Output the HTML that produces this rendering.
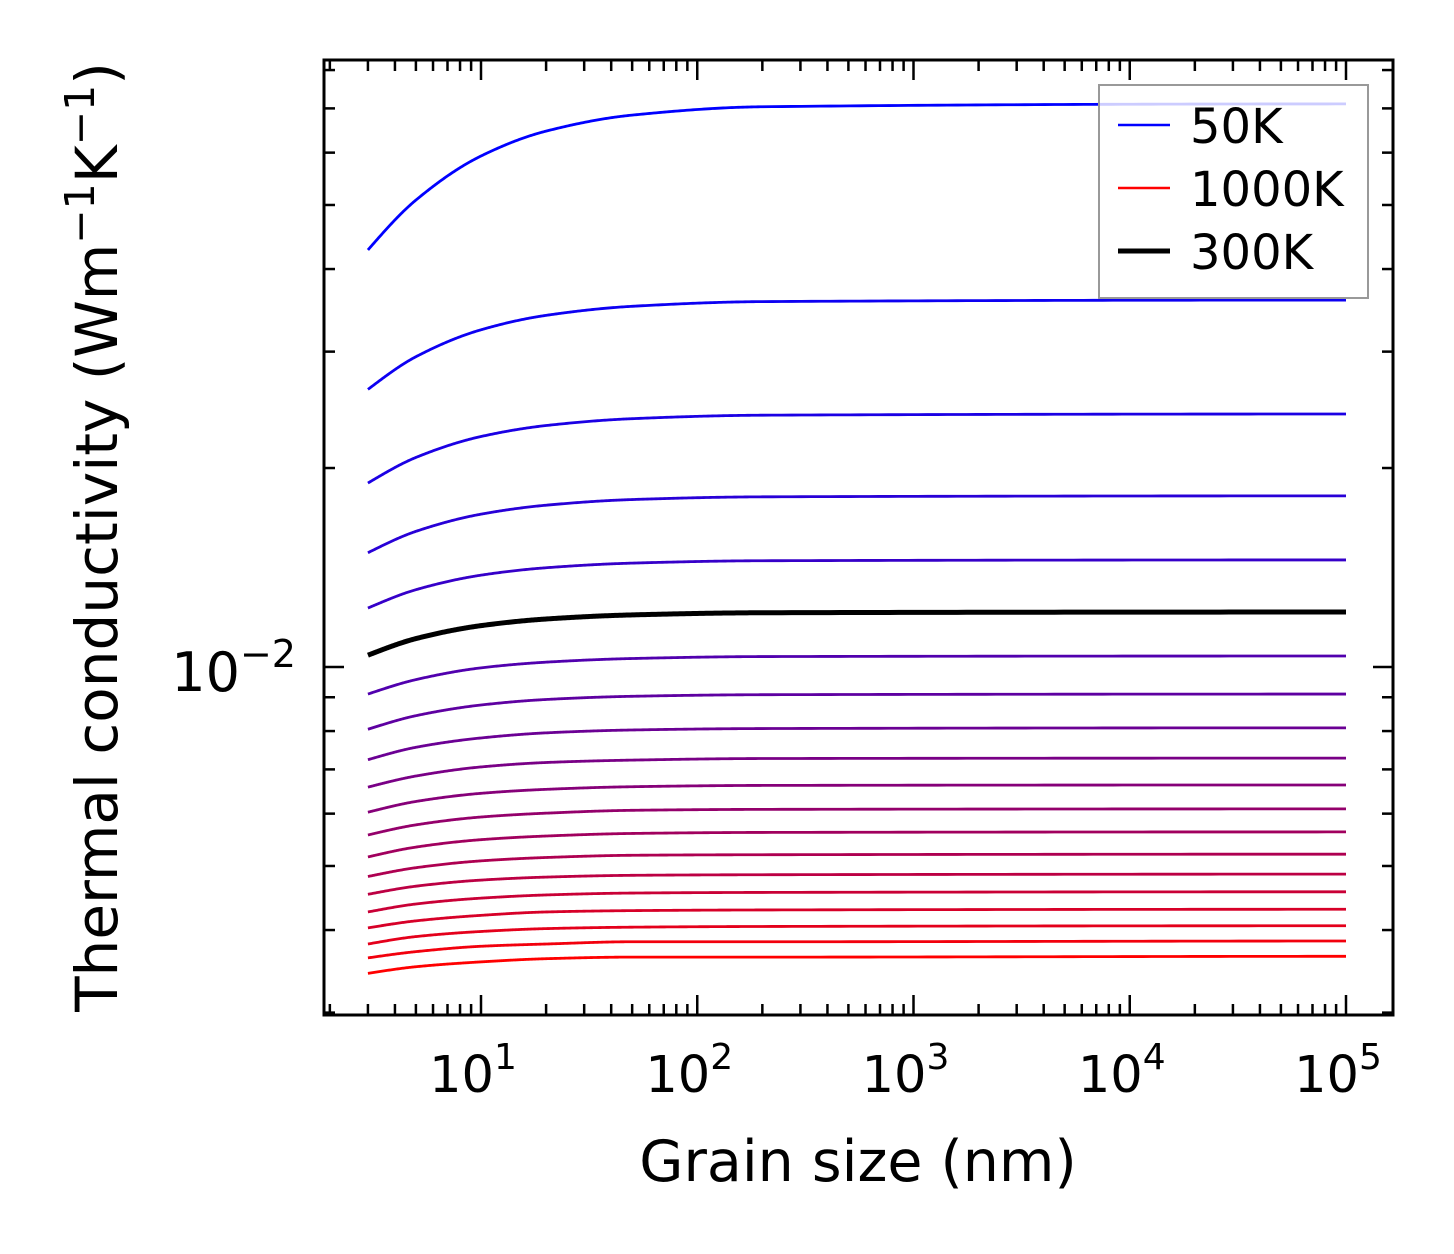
<!DOCTYPE html>
<html><head><meta charset="utf-8"><style>
html,body{margin:0;padding:0;background:#fff;}
svg{display:block;font-family:"DejaVu Sans","Liberation Sans",sans-serif;}
</style></head><body>
<svg id="chart" width="1454" height="1254" viewBox="0 0 1454 1254" xmlns="http://www.w3.org/2000/svg">
<rect width="1454" height="1254" fill="#fff"/>
<g id="series"></g>
<g id="ticks"></g>
<rect x="324" y="60" width="1069" height="955" fill="none" stroke="#000" stroke-width="3"/>
<g id="labels" font-size="51" fill="#000"></g>
<text x="858" y="1181" font-size="57" text-anchor="middle">Grain size (nm)</text>
<text transform="translate(117,537) rotate(-90)" font-size="58" text-anchor="middle">Thermal conductivity (Wm<tspan dy="-23" font-size="41">−1</tspan><tspan dy="23">K</tspan><tspan dy="-23" font-size="41">−1</tspan><tspan dy="23">)</tspan></text>
<g id="legend">
<rect x="1099" y="85" width="269" height="213" fill="#fff" fill-opacity="0.8" stroke="#999" stroke-width="2"/>
<line x1="1118" y1="125" x2="1170" y2="125" stroke="#0000ff" stroke-width="2.5"/>
<text x="1190" y="143" font-size="48">50K</text>
<line x1="1118" y1="188" x2="1170" y2="188" stroke="#ff0000" stroke-width="2.5"/>
<text x="1190" y="206" font-size="48">1000K</text>
<line x1="1118" y1="251" x2="1170" y2="251" stroke="#000" stroke-width="5"/>
<text x="1190" y="269" font-size="48">300K</text>
</g>
</svg>
<script>
const grainSizes = [3, 5, 10, 20, 50, 200, 100000];
const temperatures = [50,100,150,200,250,300,350,400,450,500,550,600,650,700,750,800,850,900,950,1000];
const k50 = [0.04275, 0.05086, 0.0593, 0.06467, 0.06838, 0.0704, 0.0711];
const k100 = [0.0263, 0.02947, 0.03237, 0.03404, 0.03513, 0.03571, 0.0359];
const k150 = [0.01898, 0.02075, 0.02232, 0.02319, 0.02375, 0.02404, 0.02414];
const k200 = [0.01489, 0.01604, 0.01703, 0.01757, 0.01792, 0.01809, 0.01815];
const k250 = [0.01228, 0.01309, 0.01377, 0.01413, 0.01436, 0.01448, 0.01452];
const k300 = [0.01042, 0.01104, 0.01155, 0.01182, 0.01199, 0.01208, 0.01211];
const k350 = [0.0091, 0.00957, 0.00997, 0.01017, 0.0103, 0.01037, 0.01039];
const k400 = [0.00805, 0.00844, 0.00876, 0.00893, 0.00903, 0.00908, 0.0091];
const k450 = [0.00724, 0.00756, 0.00781, 0.00795, 0.00803, 0.00807, 0.00809];
const k500 = [0.00658, 0.00684, 0.00706, 0.00717, 0.00723, 0.00727, 0.00728];
const k550 = [0.00603, 0.00626, 0.00644, 0.00653, 0.00659, 0.00662, 0.00663];
const k600 = [0.00557, 0.00577, 0.00593, 0.00601, 0.00607, 0.00609, 0.0061];
const k650 = [0.00516, 0.00534, 0.00548, 0.00555, 0.0056, 0.00562, 0.00563];
const k700 = [0.00482, 0.00497, 0.00509, 0.00515, 0.00519, 0.0052, 0.00521];
const k750 = [0.00453, 0.00466, 0.00476, 0.00481, 0.00484, 0.00485, 0.00486];
const k800 = [0.00426, 0.00438, 0.00447, 0.00452, 0.00455, 0.00456, 0.00457];
const k850 = [0.00403, 0.00413, 0.00421, 0.00426, 0.00428, 0.00429, 0.0043];
const k900 = [0.00381, 0.00391, 0.00398, 0.00402, 0.00404, 0.00405, 0.00406];
const k950 = [0.00363, 0.00371, 0.00378, 0.00381, 0.00384, 0.00384, 0.00385];
const k1000 = [0.00344, 0.00352, 0.00358, 0.00362, 0.00364, 0.00364, 0.00365];
const seriesValues = [k50,k100,k150,k200,k250,k300,k350,k400,k450,k500,k550,k600,k650,k700,k750,k800,k850,k900,k950,k1000];
const xTickExps = [1,2,3,4,5];
const yTickExps = [-2];

const NS = "http://www.w3.org/2000/svg";
function xPos(v){ return 481 + (Math.log10(v) - 1) * 216.25; }
function yPos(v){ return 667 - (Math.log10(v) + 2) * 661; }
function mk(tag, attrs, parent){ const e=document.createElementNS(NS,tag); for(const k in attrs) e.setAttribute(k,attrs[k]); parent.appendChild(e); return e; }

// monotone cubic interpolation in log-log space
function curvePath(xs, ys){
  const lx = xs.map(Math.log10), ly = ys.map(Math.log10), n = lx.length;
  const d = [], m = [];
  for(let i=0;i<n-1;i++) d.push((ly[i+1]-ly[i])/(lx[i+1]-lx[i]));
  m[0]=d[0]*1.1; m[n-1]=0;
  for(let i=1;i<n-1;i++){
    if(d[i-1]*d[i]<=0){ m[i]=0; continue; }
    const h0=lx[i]-lx[i-1], h1=lx[i+1]-lx[i];
    const w1=2*h1+h0, w2=h1+2*h0;
    m[i]=(w1+w2)/(w1/d[i-1]+w2/d[i]);
  }
  let p = "";
  for(let i=0;i<n-1;i++){
    const h = lx[i+1]-lx[i];
    for(let s=0;s<=60;s++){
      if(i>0 && s===0) continue;
      const t=s/60, t2=t*t, t3=t2*t;
      const yv = (2*t3-3*t2+1)*ly[i] + (t3-2*t2+t)*h*m[i] + (-2*t3+3*t2)*ly[i+1] + (t3-t2)*h*m[i+1];
      const xv = lx[i]+t*h;
      p += (p?"L":"M") + xPos(Math.pow(10,xv)).toFixed(2) + "," + yPos(Math.pow(10,yv)).toFixed(2);
    }
  }
  return p;
}

const sg = document.getElementById('series');
const order = [];
for(let i=0;i<seriesValues.length;i++) if(temperatures[i]!==300) order.push(i);
order.push(temperatures.indexOf(300));
order.forEach(i=>{
  const f = i/(temperatures.length-1);
  const col = temperatures[i]===300 ? '#000' : `rgb(${Math.round(255*f)},0,${Math.round(255*(1-f))})`;
  const path = mk('path',{d:curvePath(grainSizes, seriesValues[i]), fill:'none', stroke:col, 'stroke-width': temperatures[i]===300?5:2.8, 'stroke-linejoin':'round'}, sg);
  
  
});

// ticks
const tg = document.getElementById('ticks');
function tick(x1,y1,x2,y2){ const t=mk('line',{x1,y1,x2,y2,stroke:'#000','stroke-width':2.5},tg);
  
   }
for(let e=0;e<=5;e++){
  for(let k=1;k<10;k++){
    const v=k*Math.pow(10,e), x=xPos(v);
    if(x<325||x>1392) continue;
    const L = k===1?20:11;
    tick(x,1015,x,1015-L); tick(x,60,x,60+L);
  }
}
for(let e=-3;e<=-1;e++){
  for(let k=1;k<10;k++){
    const v=k*Math.pow(10,e), y=yPos(v);
    if(y<61||y>1014) continue;
    const L = k===1?20:11;
    tick(324,y,324+L,y); tick(1393,y,1393-L,y);
  }
}
const lg = document.getElementById('labels');
xTickExps.forEach(e=>{
  const t = mk('text',{x:xPos(Math.pow(10,e))-8,y:1092,'text-anchor':'middle'},lg);
  
  
  t.innerHTML = '10<tspan dy="-23" font-size="36">'+e+'</tspan>';
});
yTickExps.forEach(e=>{
  const t = mk('text',{x:296,y:yPos(Math.pow(10,e))+24,'text-anchor':'end','font-size':54},lg);
  
  
  t.innerHTML = '10<tspan dy="-24" font-size="38">−'+Math.abs(e)+'</tspan>';
});
</script>
</body></html>
